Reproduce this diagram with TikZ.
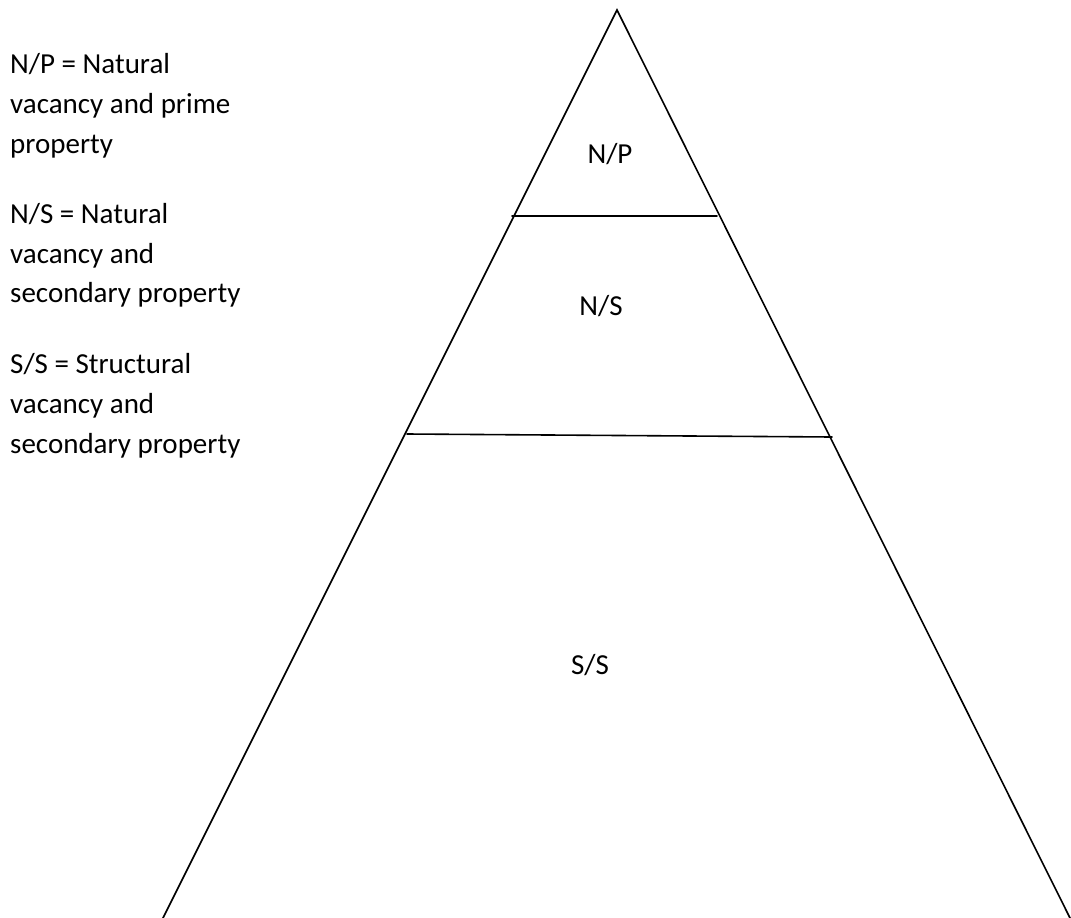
\documentclass[tikz,border=0pt]{standalone}
\usepackage{fontspec}
\setmainfont{Carlito}
\begin{document}
\begin{tikzpicture}[x=1pt,y=-1pt,
  edge/.style={line width=1.6pt,black,line cap=round,line join=miter},
  legend/.style={anchor=base west,inner sep=0pt,font=\fontsize{29}{40}\selectfont},
  tier/.style={anchor=base,inner sep=0pt,font=\fontsize{29}{40}\selectfont}]
\useasboundingbox (0,0) rectangle (1071,918);
% triangle corners
\coordinate (apex) at (617,10);
\coordinate (bl) at (162,920);
\coordinate (br) at (1071,920);
\draw[edge] (bl) -- (apex) -- (br);
% dividing lines
\coordinate (d1l) at (512,216);
\coordinate (d1r) at (717,216);
\coordinate (d2l) at (407,434);
\coordinate (d2r) at (832,437);
\draw[edge] (d1l) -- (d1r);
\draw[edge] (d2l) -- (d2r);
% tier labels
\node[tier] (np) at (610,163) {N/P};
\node[tier] (ns) at (601,315) {N/S};
\node[tier] (ss) at (590,674) {S/S};
% legend
\node[legend] (l1) at (10,73) {N/P = Natural};
\node[legend] (l2) at (10,113) {vacancy and prime};
\node[legend] (l3) at (10,153) {property};
\node[legend] (l4) at (10,223) {N/S = Natural};
\node[legend] (l5) at (10,263) {vacancy and};
\node[legend] (l6) at (10,302) {secondary property};
\node[legend] (l7) at (10,373) {S/S = Structural};
\node[legend] (l8) at (10,413) {vacancy and};
\node[legend] (l9) at (10,453) {secondary property};
\end{tikzpicture}
\end{document}
